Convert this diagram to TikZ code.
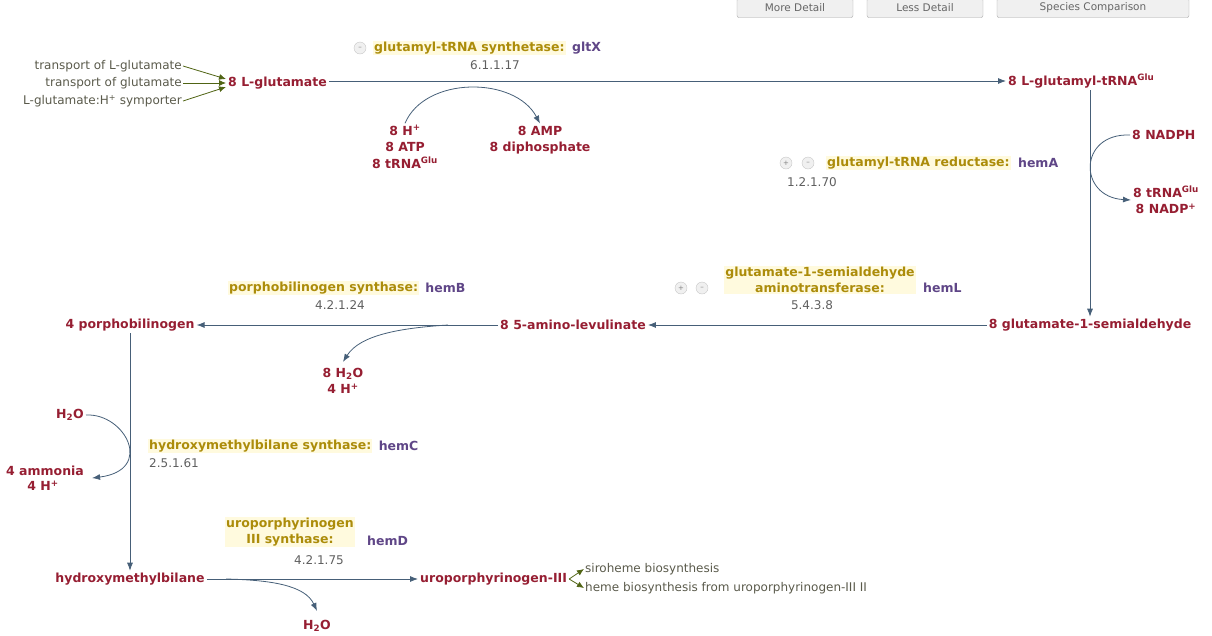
\documentclass[tikz,border=0pt]{standalone}
\usepackage{fontspec}
\setmainfont{DejaVu Sans}
\usetikzlibrary{arrows.meta,positioning}
\definecolor{cpdred}{RGB}{150,30,50}
\definecolor{enzgold}{RGB}{172,140,10}
\definecolor{enzhalo}{RGB}{255,250,222}
\definecolor{genepurple}{RGB}{95,70,135}
\definecolor{ecgrey}{RGB}{95,95,95}
\definecolor{rxnblue}{RGB}{70,95,120}
\definecolor{linkgreen}{RGB}{80,100,20}
\definecolor{linkgrey}{RGB}{90,90,75}
\newcommand{\cpdfont}{\bfseries\fontsize{12.5}{16.5}\selectfont}
\newcommand{\ecfont}{\fontsize{12}{16}\selectfont}

\begin{document}
\begin{tikzpicture}[x=1pt,y=-1pt,
  cpd/.style={font=\cpdfont, text=cpdred, inner sep=2pt, align=center},
  enz/.style={font=\cpdfont, text=enzgold, fill=enzhalo, inner sep=1pt, align=center},
  gene/.style={font=\cpdfont, text=genepurple, inner sep=1pt},
  ecnum/.style={font=\ecfont, text=ecgrey, inner sep=1pt},
  link/.style={font=\ecfont, text=linkgrey, inner sep=1pt},
  icon/.style={circle, draw=gray!45, fill=gray!12, minimum size=12pt, inner sep=0pt, font=\scriptsize, text=gray},
  btn/.style={draw=gray!70, fill=gray!12, rounded corners=2pt, minimum height=19pt, inner sep=1pt, font=\fontsize{10.5}{12}\selectfont, text=gray!80!black},
  rxn/.style={-{Latex[length=8pt,width=6pt]}, thick, rxnblue},
  path/.style={-{Latex[length=7pt,width=6pt]}, thick, linkgreen}
]
\useasboundingbox (0,0) rectangle (1212,635);
\clip (0,0) rectangle (1212,635);

\node[btn, minimum width=116pt] (more) at (795,8) {More Detail};
\node[btn, minimum width=116pt] (less) at (925,8) {Less Detail};
\node[btn, minimum width=192pt] (species) at (1093,8) {Species Comparison};

\node[cpd, anchor=west] (glu) at (226,83) {8 L-glutamate};
\node[cpd, anchor=west] (glutrna) at (1006,81) {8 L-glutamyl-tRNA\textsuperscript{Glu}};
\node[cpd] (gsa) at (1090,325) {8 glutamate-1-semialdehyde};
\node[cpd] (ala) at (573,325) {8 5-amino-levulinate};
\node[cpd] (pbg) at (130,325) {4 porphobilinogen};
\node[cpd] (hmb) at (130,579) {hydroxymethylbilane};
\node[cpd, anchor=west] (uro) at (418,579) {uroporphyrinogen-III};

\node[link, anchor=east] (tlg) at (183,66) {transport of L-glutamate};
\node[link, anchor=east] (tg) at (183,83) {transport of glutamate};
\node[link, anchor=east] (sym) at (183,101) {L-glutamate:H\textsuperscript{+} symporter};
\node[link, anchor=west] (siro) at (584,569) {siroheme biosynthesis};
\node[link, anchor=west] (heme) at (584,588) {heme biosynthesis from uroporphyrinogen-III II};

\node[icon] (minusA) at (360,48) {--};
\node[enz, anchor=west] (gltx) at (373,48) {glutamyl-tRNA synthetase:};
\node[gene, right=5pt of gltx] (gltxg) {gltX};
\node[ecnum] (ecA) at (495,65) {6.1.1.17};
\node[cpd] (subsA) at (405,147) {8 H\textsuperscript{+}\\8 ATP\\8 tRNA\textsuperscript{Glu}};
\node[cpd] (prodA) at (540,140) {8 AMP\\8 diphosphate};

\node[icon] (plusB) at (786,163) {+};
\node[icon] (minusB) at (808,163) {--};
\node[enz, anchor=west] (hema) at (826,163) {glutamyl-tRNA reductase:};
\node[gene, right=6pt of hema] (hemag) {hemA};
\node[ecnum, anchor=west] (ecB) at (786,182) {1.2.1.70};
\node[cpd, anchor=west] (nadph) at (1130,135) {8 NADPH};
\node[cpd] (prodB) at (1166,200) {8 tRNA\textsuperscript{Glu}\\8 NADP\textsuperscript{+}};

\node[icon] (plusC) at (681,288) {+};
\node[icon] (minusC) at (702,288) {--};
\node[enz] (heml) at (820,280) {glutamate-1-semialdehyde\\aminotransferase:};
\node[gene, anchor=west] (hemlg) at (922,288) {hemL};
\node[ecnum] (ecC) at (812,305) {5.4.3.8};

\node[enz, anchor=west] (hemb) at (228,288) {porphobilinogen synthase:};
\node[gene, right=5pt of hemb] (hembg) {hemB};
\node[ecnum] (ecD) at (340,305) {4.2.1.24};
\coordinate (sideD) at (448,325);
\node[cpd] (prodD) at (343,381) {8 H\textsubscript{2}O\\4 H\textsuperscript{+}};

\node[enz, anchor=west] (hemc) at (148,446) {hydroxymethylbilane synthase:};
\node[gene, right=5pt of hemc] (hemcg) {hemC};
\node[ecnum, anchor=west] (ecE) at (148,463) {2.5.1.61};
\node[cpd, anchor=east] (h2oE) at (86,415) {H\textsubscript{2}O};
\node[cpd] (ammE) at (45,471) {4 ammonia};
\node[cpd] (hE) at (43,486) {4 H\textsuperscript{+}};

\node[enz] (hemd) at (290,532) {uroporphyrinogen\\III synthase:};
\node[gene, anchor=west] (hemdg) at (366,541) {hemD};
\node[ecnum] (ecF) at (319,560) {4.2.1.75};
\coordinate (sideF) at (226,579);
\node[cpd] (h2oF) at (317,626) {H\textsubscript{2}O};

\draw[path] (tlg.east) -- ([yshift=4pt]glu.west);
\draw[path] (tg.east) -- (glu.west);
\draw[path] (sym.east) -- ([yshift=-4pt]glu.west);
\draw[path] (uro.east) -- (siro.west);
\draw[path] (uro.east) -- (heme.west);

\draw[rxn] (glu.east |- glutrna.west) -- (glutrna.west);
\draw[rxn] (glutrna.south -| gsa.north) -- (gsa.north);
\draw[rxn] (gsa.west) -- (ala.east);
\draw[rxn] (ala.west) -- (pbg.east);
\draw[rxn] (pbg.south) -- (hmb.north);
\draw[rxn] (hmb.east) -- (uro.west);

\draw[rxn] (subsA.north) .. controls (425,76) and (515,76) .. (prodA.north);
\draw[rxn] (nadph.west) .. controls (1078,133) and (1078,197) .. (prodB.west);
\draw[rxn] (sideD) .. controls (400,328) and (360,335) .. ([yshift=4pt]prodD.north);
\draw[rxn] (h2oE.east) .. controls (125,413) and (155,470) .. ([xshift=6pt]ammE.south east);
\draw[rxn] (sideF) .. controls (270,580) and (305,585) .. ([yshift=7pt]h2oF.north);

\end{tikzpicture}
\end{document}
